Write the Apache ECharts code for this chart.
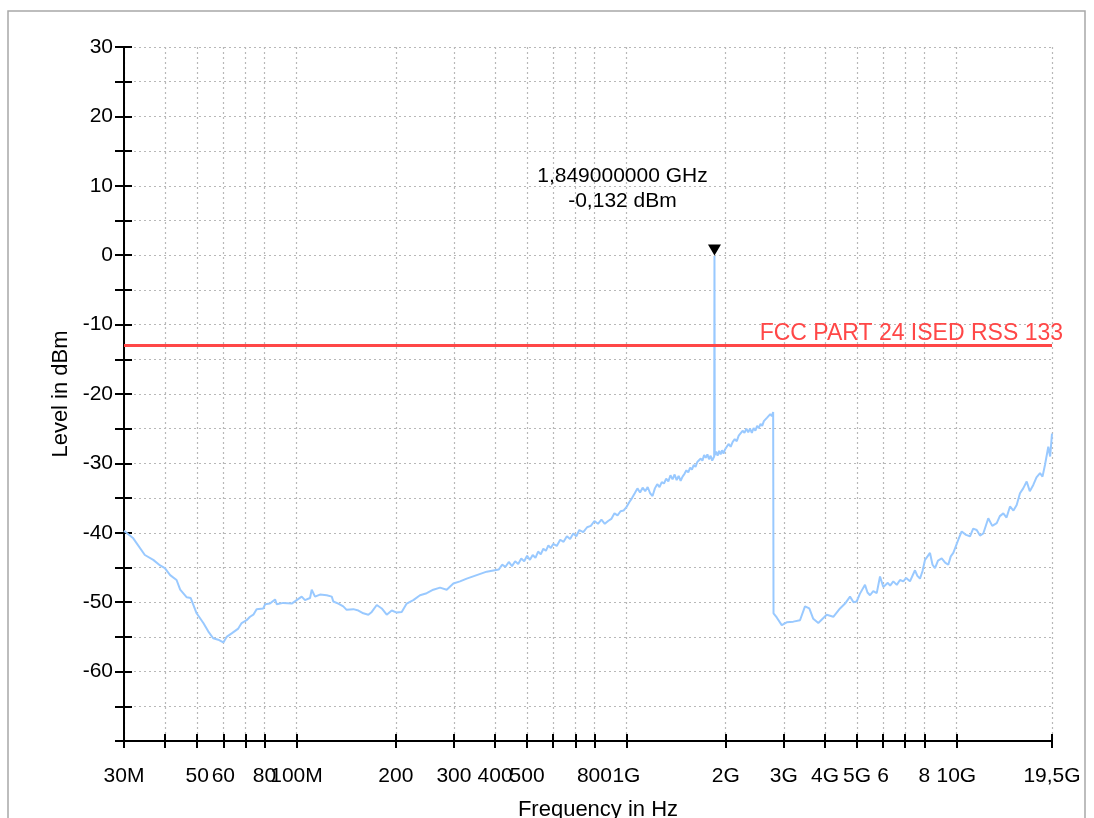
<!DOCTYPE html>
<html><head><meta charset="utf-8">
<script src="https://cdn.jsdelivr.net/npm/echarts@6/dist/echarts.min.js"></script>
<style>html,body{margin:0;padding:0;background:#fff}#c{width:1094px;height:818px}</style>
</head><body><div id="c"></div>
<script>
// Frequencies in MHz, levels in dBm
const freqMHz = [30,32,34.7,36.8,38.6,39.9,41.4,43.3,44.4,46.5,47.8,49.8,52.2,54.0,55.9,57.9,60.0,61.4,63.6,66.6,68.2,70.6,72.3,74.0,75.7,79.3,80.3,83.1,86.1,87.1,91.2,96.7,100.1,103.7,106.1,109.9,111.2,113.8,117.8,123.5,127.9,129.3,133.9,138.6,141.9,148.7,154.0,159.4,165.1,169.1,175.1,181.3,187.7,194.4,201.3,208.4,215.8,226.0,236.8,248.1,259.8,272.3,285.3,298.8,313.1,328.1,351.8,377.2,
  410,420,430,440,450,460,470,480,490,500,510,520,530,540,550,560,570,580,590,600,615,630,645,660,675,690,705,720,740,760,780,800,820,840,860,880,900,920,940,960,980,1000,1020,1040,1060,1080,1100,1120,1140,1160,1180,1200,1220,1240,1260,1280,1300,1320,1340,1360,1380,1400,1420,1440,1460,1480,1500,1520,1540,1560,1580,1600,1620,1640,1660,1680,1700,1720,1740,1760,1780,1800,1820,1845,1849,1853,1870,1890,1910,1930,1950,1970,1990,2010,2040,2070,2100,2130,2160,2190,2220,2250,2280,2310,2340,2370,2400,2430,2460,2490,2520,2550,2580,2610,2640,2670,2700,2730,2760,2785,
  2792,2855,2957,3061,3205,3359,3478,3584,3685,3816,4047,4238,4441,4600,4762,4880,4989,5100,5287,5380,5476,5600,5738,5871,6007,6200,6300,6442,6600,6750,6908,7050,7236,7494,7620,7760,7900,8036,8180,8322,8470,8618,8800,9031,9250,9456,9620,9793,10139,10382,10700,11002,11250,11529,11800,12072,12499,12850,13257,13550,13882,14200,14546,14900,15241,15596,15950,16342,16700,17112,17500,17936,18250,18571,19003,19250,19500];
const levelDbm = [-39.7,-40.8,-43.2,-43.9,-44.7,-45.1,-46.1,-46.8,-48.2,-49.3,-49.4,-51.6,-53.0,-54.2,-55.2,-55.4,-55.8,-55.0,-54.5,-53.8,-53.0,-52.6,-52.1,-51.8,-51.0,-50.9,-50.3,-50.2,-49.6,-50.3,-50.1,-50.2,-49.7,-49.2,-49.7,-49.4,-48.2,-49.2,-48.9,-49.0,-49.2,-49.9,-50.2,-50.6,-51.1,-51.0,-51.2,-51.6,-51.8,-51.4,-50.4,-50.9,-51.8,-51.2,-51.5,-51.4,-50.2,-49.7,-49.0,-48.7,-48.2,-47.9,-48.2,-47.3,-47.0,-46.6,-46.1,-45.6,
  -45.3,-44.6,-44.9,-44.2,-44.8,-44.1,-44.5,-43.7,-44.1,-43.3,-43.9,-43.2,-43.6,-42.7,-43.1,-42.3,-42.6,-41.8,-42.2,-41.6,-41.9,-41.0,-41.3,-40.5,-40.9,-40.1,-40.5,-39.6,-39.9,-39.2,-39.0,-38.3,-38.7,-38.1,-38.7,-38.3,-38.0,-37.2,-37.5,-36.9,-36.8,-36.3,-35.6,-35.0,-34.3,-33.6,-34.2,-33.5,-34.0,-33.4,-34.3,-34.7,-33.6,-33.0,-33.4,-32.7,-32.9,-32.2,-32.6,-31.7,-32.3,-31.6,-32.4,-31.8,-32.5,-31.9,-31.5,-31.0,-31.3,-30.6,-30.9,-30.2,-30.5,-29.8,-30.0,-29.3,-29.6,-28.8,-29.2,-28.7,-29.4,-28.9,-29.6,-29.0,-0.132,-28.8,-28.3,-28.9,-28.2,-28.7,-28.1,-28.6,-28.0,-27.8,-27.2,-27.6,-26.9,-26.5,-26.8,-26.0,-25.8,-25.3,-25.6,-25.0,-25.5,-25.0,-25.6,-24.9,-25.3,-24.6,-24.9,-24.3,-24.6,-23.9,-24.1,-23.4,-23.6,-22.9,-23.2,-22.6,
  -51.6,-52.2,-53.3,-52.9,-52.8,-52.6,-50.6,-50.9,-52.4,-53.0,-51.8,-52.1,-50.9,-50.2,-49.2,-50.0,-49.9,-48.8,-47.5,-48.6,-49.0,-48.4,-48.7,-46.3,-47.8,-47.2,-47.6,-47.0,-47.5,-46.8,-47.0,-46.5,-47.0,-45.4,-46.2,-46.6,-45.5,-43.9,-43.4,-42.9,-44.6,-45.1,-44.0,-43.7,-44.3,-44.6,-43.4,-42.9,-41.0,-39.8,-40.3,-40.5,-39.4,-39.6,-40.4,-40.1,-37.9,-39.0,-38.6,-37.6,-37.2,-37.8,-36.2,-36.8,-36.0,-34.3,-33.6,-32.6,-34.0,-33.1,-32.0,-31.4,-31.9,-30.2,-27.6,-29.0,-25.7];

const tickFreqs = [30,40,50,60,70,80,100,200,300,400,500,600,700,800,1000,2000,3000,4000,5000,6000,7000,8000,10000,19500];
const labelFreqs = [30,50,60,80,100,200,300,400,500,800,1000,2000,3000,4000,5000,6000,8000,10000,19500];
const labelTexts = ['30M','50','60','80','100M','200','300','400','500','800','1G','2G','3G','4G','5G','6','8','10G','19,5G'];
const yMin = -70, yMax = 30, yStep = 5;
const limitDbm = -13;
const limitName = 'FCC PART 24 ISED RSS 133';
const markerFreq = 1849, markerLevel = -0.132;
const markerText = ['1,849000000 GHz', '-0,132 dBm'];

const lg = Math.log10;
const xMin = lg(freqMHz[0]), xMax = lg(19500);
const seriesData = freqMHz.map((f, i) => [lg(f), levelDbm[i]]);
const FONT = '"Liberation Sans", Arial, Helvetica, sans-serif';
const gridStyle = {show: true, lineStyle: {color: '#b8b8b8', width: 1.2, type: [2, 3]}};

function xLabel(v) {
  for (let i = 0; i < labelFreqs.length; i++) {
    if (Math.abs(lg(labelFreqs[i]) - v) < 1e-6) return labelTexts[i];
  }
  return '';
}

const baseX = {type: 'value', min: xMin, max: xMax, position: 'bottom'};

const chart = echarts.init(document.getElementById('c'), null, {renderer: 'canvas'});
chart.setOption({
  animation: false,
  backgroundColor: '#fff',
  textStyle: {fontFamily: FONT},
  graphic: [{
    type: 'rect', silent: true, z: -10,
    shape: {x: 8, y: 11, width: 1077, height: 830},
    style: {fill: 'none', stroke: '#a8a8a8', lineWidth: 1.5}
  }],
  grid: {left: 124, right: 42, top: 47, bottom: 77, containLabel: false, outerBoundsMode: 'none'},
  xAxis: [
    Object.assign({}, baseX, {
      name: 'Frequency in Hz', nameLocation: 'middle', nameGap: 58,
      nameTextStyle: {color: '#000', fontSize: 22, fontFamily: FONT, padding: [0, 0, 0, 20]},
      axisLine: {show: true, onZero: false, lineStyle: {color: '#000', width: 2}},
      axisTick: {show: true, inside: false, length: 7, lineStyle: {color: '#000', width: 2}, customValues: tickFreqs.map(lg)},
      axisLabel: {show: true, margin: 25, color: '#000', fontSize: 21, fontFamily: FONT, customValues: labelFreqs.map(lg), formatter: xLabel},
      splitLine: gridStyle
    }),
    Object.assign({}, baseX, {
      axisLine: {show: false, onZero: false},
      axisTick: {show: true, inside: true, length: 7, lineStyle: {color: '#000', width: 2}, customValues: tickFreqs.map(lg)},
      axisLabel: {show: false},
      splitLine: {show: false}
    })
  ],
  yAxis: [
    {
      type: 'value', min: yMin, max: yMax, interval: yStep, position: 'left',
      name: 'Level in dBm', nameLocation: 'middle', nameGap: 52, nameRotate: 90,
      nameTextStyle: {color: '#000', fontSize: 22, fontFamily: FONT},
      axisLine: {show: true, onZero: false, lineStyle: {color: '#000', width: 2}},
      axisTick: {show: true, inside: false, length: 9, lineStyle: {color: '#000', width: 2}},
      axisLabel: {show: true, margin: 11, color: '#000', fontSize: 21, fontFamily: FONT,
        formatter: v => (v % 10 === 0 && v > yMin) ? String(v) : ''},
      splitLine: gridStyle
    },
    {
      type: 'value', min: yMin, max: yMax, interval: yStep, position: 'left',
      axisLine: {show: false, onZero: false},
      axisTick: {show: true, inside: true, length: 8, lineStyle: {color: '#000', width: 2}},
      axisLabel: {show: false},
      splitLine: {show: false}
    }
  ],
  series: [{
    type: 'line', xAxisIndex: 0, yAxisIndex: 0,
    data: seriesData, showSymbol: false, symbol: 'none',
    lineStyle: {color: '#99c9ff', width: 2},
    z: 3,
    markLine: {
      silent: true, symbol: ['none', 'none'], animation: false,
      lineStyle: {color: '#ff4747', width: 3, type: 'solid'},
      label: {show: true, position: 'insideEndTop', formatter: limitName, color: '#ff4747', fontSize: 23, fontFamily: FONT, distance: [-11, 0]},
      data: [{yAxis: limitDbm}]
    },
    markPoint: {
      silent: true, animation: false,
      data: [{
        coord: [lg(markerFreq), markerLevel],
        symbol: 'triangle', symbolRotate: 180, symbolSize: [13, 11], symbolOffset: [0, -6],
        itemStyle: {color: '#000'},
        label: {show: true, position: 'inside', offset: [-92, -61], color: '#000', fontSize: 21, lineHeight: 25, fontFamily: FONT, align: 'center',
          formatter: markerText.join('\n')}
      }]
    }
  }]
});
</script>
</body></html>
